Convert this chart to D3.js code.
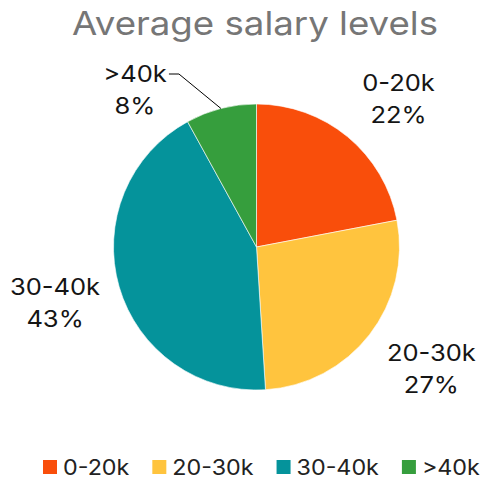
<!DOCTYPE html>
<html>
<head>
<meta charset="utf-8">
<script src="https://cdn.jsdelivr.net/npm/d3@7"></script>
<style>
  html, body { margin: 0; padding: 0; background: #fff; }
  svg { display: block; font-family: Inter, "Noto Sans", sans-serif; }
</style>
</head>
<body>
<svg id="chart" width="481" height="479"></svg>
<script>
const title = "Average salary levels";
const categories = ["0-20k", "20-30k", "30-40k", ">40k"];
const values = [22, 27, 43, 8];
const colors = ["#F94E0B", "#FFC43E", "#05939B", "#369E3D"];

const W = 481, H = 479;
const cx = 256.5, cy = 247, R = 143;
const SX = 1.11; // horizontal stretch to mimic the wider typeface
const svg = d3.select("#chart");

function wideText(parent, x, y, str, size, fill, anchor) {
  const t = parent.append("g")
    .attr("transform", `translate(${x},${y}) scale(${SX},1)`)
    .append("text")
    .attr("text-anchor", anchor || "start")
    .attr("font-size", size)
    .attr("fill", fill)
    .text(str);
  return t;
}

wideText(svg, 255, 35, title, 33, "#767676", "middle");

const data = categories.map((c, i) => ({ cat: c, value: values[i], color: colors[i] }));
const pie = d3.pie().sort(null).value(d => d.value);
const arcs = pie(data);
const arc = d3.arc().innerRadius(0).outerRadius(R);
const total = d3.sum(values);

const g = svg.append("g").attr("transform", `translate(${cx},${cy})`);
g.selectAll("path.slice").data(arcs).join("path")
  .attr("class", "slice")
  .attr("d", arc)
  .attr("fill", d => d.data.color)
  .attr("stroke", "#ffffff")
  .attr("stroke-width", 0.6);

// label placement
const rx = 215, ry = 195, labelShiftX = 5;
const labelFont = 23, lineGap = 32;
arcs.forEach(a => {
  const mid = (a.startAngle + a.endAngle) / 2;
  const share = a.data.value / total;
  let lx = Math.sin(mid) * rx + labelShiftX, ly = -Math.cos(mid) * ry;
  if (share < 0.1) {
    // small slice: move label aside and draw a leader line
    lx = -121.5; ly = -159;
    const ex = Math.sin(mid) * R, ey = -Math.cos(mid) * R;
    const by = ly - 6 - 8;
    g.append("path")
      .attr("d", d3.line()([[ex, ey], [ex - 42, by], [ex - 52, by]]))
      .attr("fill", "none").attr("stroke", "#000").attr("stroke-width", 1);
  }
  wideText(g, lx, ly - 6, a.data.cat, labelFont, "#151515", "middle");
  wideText(g, lx, ly - 6 + lineGap, Math.round(share * 100) + "%", labelFont, "#151515", "middle");
});

// legend
const legend = svg.append("g").attr("transform", "translate(43,460)");
let x = 0;
data.forEach(d => {
  const it = legend.append("g").attr("transform", `translate(${x},0)`);
  it.append("rect").attr("width", 14).attr("height", 14).attr("fill", d.color);
  const t = wideText(it, 20, 14.5, d.cat, 21, "#222");
  x += 20 + t.node().getComputedTextLength() * SX + 23;
});
</script>
</body>
</html>
